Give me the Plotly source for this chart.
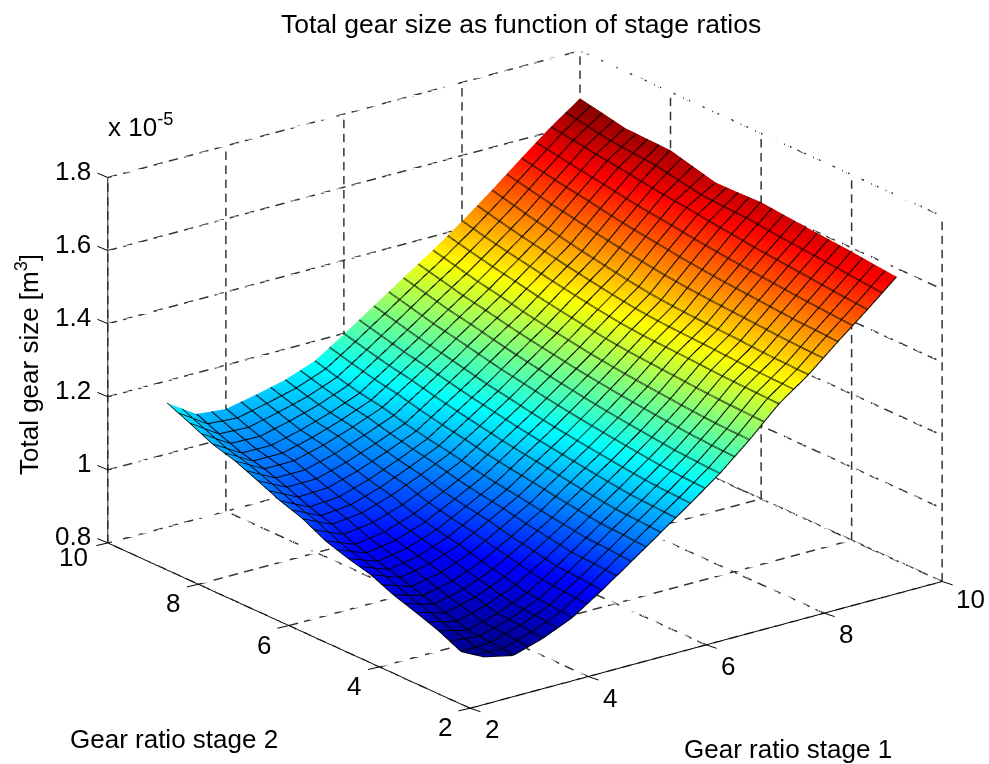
import plotly.graph_objects as go

ratio_stage1 = [3.0,3.5,4.0,4.5,5.0,5.5,6.0,6.5,7.0,7.5,8.0,8.5,9.0,9.5,10.0]
ratio_stage2 = [3.0,3.5,4.0,4.5,5.0,5.5,6.0,6.5,7.0,7.5,8.0,8.5,9.0,9.5,10.0]
# rows: stage 2 ratio, columns: stage 1 ratio; units of 1e-5 m^3
gear_size = [
 [.840,.822,.847,.882,.935,.992,1.050,1.108,1.168,1.238,1.315,1.373,1.442,1.508,1.577],
 [.826,.830,.854,.888,.940,.997,1.054,1.111,1.171,1.240,1.317,1.375,1.445,1.513,1.583],
 [.855,.835,.859,.893,.944,1.000,1.057,1.115,1.175,1.243,1.319,1.377,1.448,1.519,1.590],
 [.877,.854,.875,.908,.957,1.009,1.065,1.122,1.182,1.248,1.322,1.381,1.453,1.525,1.595],
 [.897,.873,.891,.923,.969,1.018,1.074,1.130,1.189,1.254,1.326,1.384,1.458,1.531,1.600],
 [.924,.894,.910,.940,.984,1.029,1.084,1.138,1.197,1.260,1.329,1.387,1.463,1.537,1.606],
 [.940,.910,.924,.953,.995,1.038,1.093,1.147,1.206,1.267,1.332,1.391,1.469,1.545,1.612],
 [.960,.928,.940,.968,1.007,1.049,1.103,1.157,1.216,1.275,1.338,1.397,1.476,1.552,1.610],
 [.992,.955,.964,.990,1.025,1.063,1.115,1.169,1.227,1.285,1.347,1.406,1.485,1.561,1.609],
 [1.013,.974,.980,1.005,1.038,1.074,1.127,1.180,1.238,1.295,1.357,1.417,1.493,1.568,1.625],
 [1.040,1.000,1.001,1.024,1.054,1.087,1.140,1.194,1.251,1.306,1.368,1.428,1.503,1.576,1.641],
 [1.066,1.022,1.022,1.043,1.071,1.103,1.155,1.208,1.265,1.320,1.380,1.441,1.515,1.586,1.643],
 [1.084,1.037,1.036,1.056,1.082,1.114,1.167,1.221,1.277,1.332,1.392,1.453,1.525,1.594,1.645],
 [1.113,1.061,1.057,1.076,1.098,1.129,1.182,1.237,1.293,1.347,1.405,1.468,1.537,1.604,1.658],
 [1.140,1.088,1.080,1.097,1.116,1.146,1.198,1.253,1.308,1.362,1.420,1.483,1.549,1.613,1.670],
]
ratio_ticks = [2,4,6,8,10]
size_ticks = [0.8,1,1.2,1.4,1.6,1.8]
size_tick_text = ["0.8","1","1.2","1.4","1.6","1.8"]
FONT = "Liberation Sans"
FS = 26
JET = [[0,"rgb(0,0,143)"],[0.125,"rgb(0,0,255)"],[0.375,"rgb(0,255,255)"],[0.625,"rgb(255,255,0)"],[0.875,"rgb(255,0,0)"],[1,"rgb(128,0,0)"]]

gx, gy, gz = [], [], []
def seg(a, b, n):
    # a dashed grid line: n dashes, 60% ink
    for i in range(n):
        s, e = i/n, (i+0.6)/n
        for f in (s, e):
            gx.append(a[0]+(b[0]-a[0])*f); gy.append(a[1]+(b[1]-a[1])*f); gz.append(a[2]+(b[2]-a[2])*f)
        gx.append(None); gy.append(None); gz.append(None)
for z in size_ticks:
    seg((2,10,z),(10,10,z),31); seg((10,10,z),(10,2,z),25)
for t in ratio_ticks:
    seg((t,10,0.8),(t,10,1.8),26); seg((10,t,0.8),(10,t,1.8),26)
    seg((t,2,0.8),(t,10,0.8),25); seg((2,t,0.8),(10,t,0.8),31)

fig = go.Figure()
fig.add_trace(go.Scatter3d(x=gx,y=gy,z=gz,mode="lines",line=dict(color="#333333",width=3),hoverinfo="skip",showlegend=False))
# the mesh lines of a surface stay one pixel wide, so a second copy offset slightly thickens them
for offset in (0.0, 0.012):
    mesh = dict(show=True,start=3+offset,end=10,size=0.25,color="black",width=2,highlight=False)
    fig.add_trace(go.Surface(x=ratio_stage1,y=ratio_stage2,z=gear_size,colorscale=JET,showscale=False,
        lighting=dict(ambient=1,diffuse=0,specular=0,fresnel=0,roughness=1),
        contours=dict(x=mesh,y=mesh,z=dict(show=False,highlight=False)),hoverinfo="skip"))
axis = dict(showbackground=False,showgrid=False,zeroline=False,showspikes=False,showline=True,linecolor="black",linewidth=2,
    ticks="",showticklabels=False,title=dict(text=""))
tf = dict(family=FONT,size=FS,color="black")
scene_notes = []
def tick(x, y, z, ax, ay):
    return dict(x=x,y=y,z=z,text=" ",showarrow=True,arrowhead=0,arrowwidth=1,arrowcolor="black",ax=ax,ay=ay,standoff=0,font=dict(size=1))
for v, t in zip(size_ticks, size_tick_text):
    scene_notes.append(dict(x=2,y=10,z=v,text=t,showarrow=False,xanchor="right",xshift=-15,yshift=7,font=tf))
    scene_notes.append(tick(2,10,v,-12,-5))
for v in ratio_ticks:
    scene_notes.append(dict(x=2,y=v,z=0.8,text=str(v),showarrow=False,xanchor="right" if v==10 else "center",xshift=-18 if v==10 else -25,yshift=-14 if v==10 else -19,font=tf))
    scene_notes.append(dict(x=v,y=2,z=0.8,text=str(v),showarrow=False,xshift=28 if v==10 else 22,yshift=-18 if v==10 else -21,font=tf))
    scene_notes.append(tick(2,v,0.8,-13,3))
    scene_notes.append(tick(v,2,0.8,12,4))
def note(text, px, py, **kw):
    return dict(text=text,x=px/989,y=1-py/764,xref="paper",yref="paper",xanchor="center",yanchor="middle",showarrow=False,font=tf,**kw)
fig.update_layout(width=989,height=764,margin=dict(l=0,r=0,t=0,b=0),paper_bgcolor="white",
    scene=dict(domain=dict(x=[0.0617,1],y=[0.0066,1]),
        xaxis=dict(axis,range=[2,10],tickvals=ratio_ticks),
        yaxis=dict(axis,range=[2,10],tickvals=ratio_ticks),
        zaxis=dict(axis,range=[0.8,1.8],tickvals=size_ticks),
        aspectmode="manual",aspectratio=dict(x=1.568,y=1.568,z=1.028),
        annotations=scene_notes,
        camera=dict(projection=dict(type="orthographic"),eye=dict(x=-1.083,y=-1.412,z=0.665),up=dict(x=0,y=0,z=1))),
    annotations=[
      dict(note("Total gear size as function of stage ratios",521,24),font=dict(tf,size=26.5)),
      note("x 10<sup>-5</sup>",140,126),
      note("Total gear size [m<sup>3</sup>]",28,365,textangle=-90),
      note("Gear ratio stage 2",174,739),
      note("Gear ratio stage 1",788,749),
    ])
fig.write_html("out.html",post_script="document.body.style.margin='0';",config=dict(displayModeBar=False))
